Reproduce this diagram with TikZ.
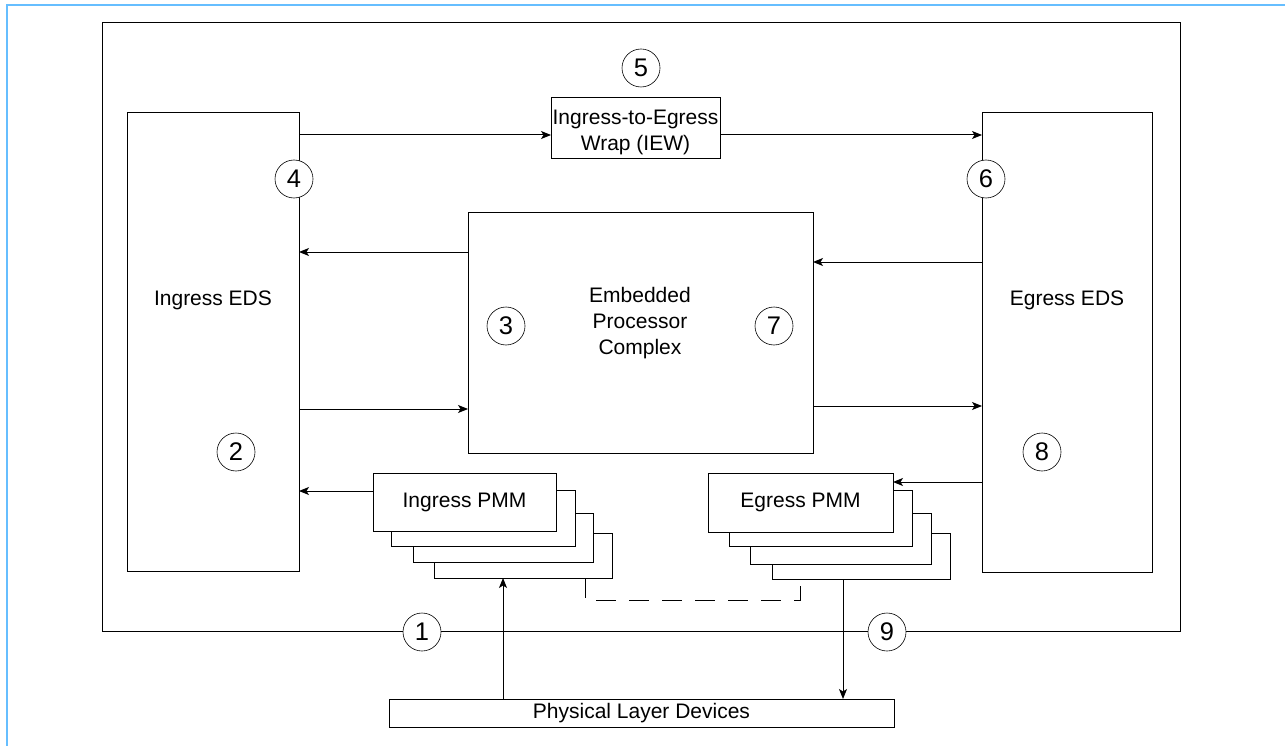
\documentclass[tikz,border=0pt]{standalone}
\usepackage{fontspec}
\setmainfont{Liberation Sans}
\usetikzlibrary{arrows.meta}
\definecolor{frameblue}{RGB}{102,190,255}
\begin{document}
\begin{tikzpicture}[x=1pt,y=-1pt,
  box/.style={draw, line width=1pt, fill=white, inner sep=0pt, outer sep=0pt, font=\fontsize{21}{26}\selectfont, align=center},
  num/.style={circle, draw, line width=0.6pt, fill=white, minimum size=38pt, inner sep=0pt, font=\fontsize{25.5}{25.5}\selectfont},
  lbl/.style={font=\fontsize{21}{26}\selectfont, align=center, inner sep=0pt},
  arr/.style={line width=1pt, -{Stealth[length=10pt,width=8pt,inset=2.5pt]}},
  dashline/.style={line width=1pt, dash pattern=on 20pt off 13pt},
]
\useasboundingbox (0,0) rectangle (1285,746);
\draw[frameblue, line width=2pt] (1285,5) -- (7,5) -- (7,746);

% outer box
\node[box, minimum width=1078pt, minimum height=608pt] (outer) at (641,327) {};

% main blocks
\node[box, minimum width=172pt, minimum height=458pt] (ieds) at (213,342) {};
\node[lbl] (iedsT) at (213,300) {Ingress EDS};
\node[box, minimum width=170pt, minimum height=459pt] (eeds) at (1067,342.5) {};
\node[lbl] (eedsT) at (1067,300) {Egress EDS};
\node[box, minimum width=169pt, minimum height=61pt] (iew) at (635.5,128.5) {};
\node[lbl] (iewT) at (635.5,132) {Ingress-to-Egress\\Wrap (IEW)};
\node[box, minimum width=345pt, minimum height=240pt] (epc) at (640.5,333) {};
\node[lbl] (epcT) at (640,323) {Embedded\\Processor\\Complex};
\node[box, minimum width=505pt, minimum height=28pt] (phys) at (641.5,713) {Physical Layer Devices};

% Ingress PMM stack
\node[box, minimum width=178pt, minimum height=45pt] (ipmm4) at (523,555.5) {};
\node[box, minimum width=180pt, minimum height=49pt] (ipmm3) at (503,537.5) {};
\node[box, minimum width=184pt, minimum height=56pt] (ipmm2) at (483,518) {};
\node[box, minimum width=183pt, minimum height=58pt] (ipmm1) at (464.5,502) {Ingress PMM};

% Egress PMM stack
\node[box, minimum width=178pt, minimum height=46pt] (epmm4) at (861,556) {};
\node[box, minimum width=181pt, minimum height=51pt] (epmm3) at (840.5,538.5) {};
\node[box, minimum width=183pt, minimum height=56pt] (epmm2) at (820.5,518) {};
\node[box, minimum width=185pt, minimum height=59pt] (epmm1) at (800.5,502.5) {Egress PMM};

% helper levels
\coordinate (yA) at (0,135);
\coordinate (yB) at (0,252);
\coordinate (yC) at (0,262);
\coordinate (yD) at (0,409);
\coordinate (yE) at (0,406);
\coordinate (yF) at (0,491);
\coordinate (yG) at (0,482);
\coordinate (xA) at (503,0);
\coordinate (xB) at (843,0);
\coordinate (xC) at (585,0);
\coordinate (xD) at (800,0);

% connectors
\draw[arr] (ieds.east |- yA) -- (iew.west |- yA);
\draw[arr] (iew.east |- yA) -- (eeds.west |- yA);
\draw[arr] (epc.west |- yB) -- (ieds.east |- yB);
\draw[arr] (eeds.west |- yC) -- (epc.east |- yC);
\draw[arr] (ieds.east |- yD) -- (epc.west |- yD);
\draw[arr] (epc.east |- yE) -- (eeds.west |- yE);
\draw[arr] (ipmm1.west |- yF) -- (ieds.east |- yF);
\draw[arr] (eeds.west |- yG) -- (epmm1.east |- yG);
\draw[arr] (phys.north -| xA) -- (ipmm4.south -| xA);
\draw[arr] (epmm4.south -| xB) -- (phys.north -| xB);
\draw[dashline] (ipmm4.south -| xC) -- ++(0,22) -| (epmm4.south -| xD);

% numbered circles
\node[num] (n1) at (422,632) {1};
\node[num] (n2) at (236,452) {2};
\node[num] (n3) at (506,326) {3};
\node[num] (n4) at (294,179) {4};
\node[num] (n5) at (641,68) {5};
\node[num] (n6) at (986,179) {6};
\node[num] (n7) at (774,326) {7};
\node[num] (n8) at (1042,452) {8};
\node[num] (n9) at (887,632) {9};
\end{tikzpicture}
\end{document}
